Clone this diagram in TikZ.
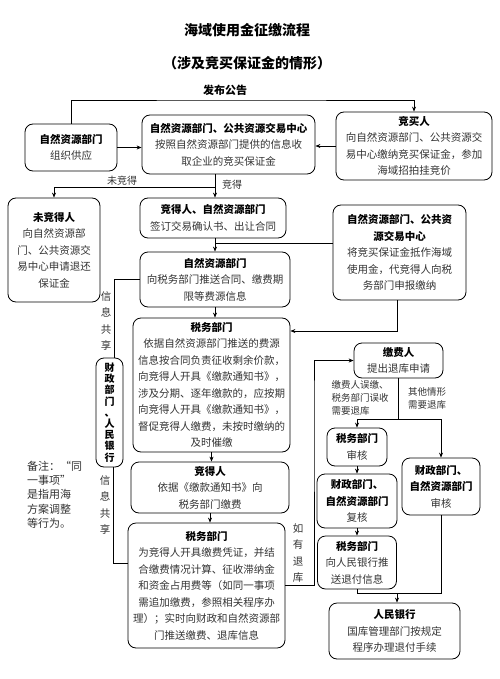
\documentclass[tikz,border=0pt]{standalone}
\usepackage{fontspec}
\setmainfont{Noto Sans CJK SC}
\usetikzlibrary{arrows.meta, positioning}
\newcommand{\boxhead}[1]{\textbf{\color{black}#1}}

\begin{document}
\begin{tikzpicture}[
        x=1pt, y=-1pt,
        box/.style={draw, rounded corners=8pt, line width=0.8pt, align=center, inner sep=1pt,
            font=\fontsize{10.5}{16.5}\selectfont, text=black!80},
        ttl/.style={font=\fontsize{14}{16}\selectfont\bfseries},
        lbl/.style={font=\fontsize{10}{13}\selectfont, text=black!80, inner sep=0pt, align=left},
        vlbl/.style={lbl, align=center, font=\fontsize{10.5}{16.3}\selectfont},
        arr/.style={-{Stealth[length=5pt, width=4pt]}, line width=0.7pt},
        con/.style={line width=0.7pt}
    ]
    \useasboundingbox (0,0) rectangle (499,679);

    % Title
    \node[ttl] (title) at (247,30) {海域使用金征缴流程};
    \node[ttl, below=13pt of title] (subtitle) {（涉及竞买保证金的情形）};

    % Nodes
    \node[box, minimum width=92pt, minimum height=47pt] (supply) at (71,147.5)
        {\boxhead{自然资源部门}\\组织供应};
    \node[box, minimum width=173pt, minimum height=59pt] (collect) at (228.5,144.5)
        {\boxhead{自然资源部门、公共资源交易中心}\\按照自然资源部门提供的信息收\\取企业的竞买保证金};
    \node[box, minimum width=156pt, minimum height=68pt] (bidder) at (414,146)
        {\boxhead{竞买人}\\向自然资源部门、公共资源交\\易中心缴纳竞买保证金，参加\\海域招拍挂竞价};
    \node[box, minimum width=92pt, minimum height=104pt] (loser) at (54,250)
        {\boxhead{未竞得人}\\向自然资源部\\门、公共资源交\\易中心申请退还\\保证金};
    \node[box, minimum width=146pt, minimum height=40pt] (sign) at (213,218)
        {\boxhead{竞得人、自然资源部门}\\签订交易确认书、出让合同};
    \node[box, minimum width=133pt, minimum height=95pt] (offset) at (399.5,252.5)
        {\boxhead{自然资源部门、公共资}\\\boxhead{源交易中心}\\将竞买保证金抵作海域\\使用金，代竞得人向税\\务部门申报缴纳};
    \node[box, minimum width=150pt, minimum height=55pt] (push) at (215,279.5)
        {\boxhead{自然资源部门}\\向税务部门推送合同、缴费期\\限等费源信息};
    \node[box, minimum width=157pt, minimum height=134pt] (taxnotice) at (211.5,385)
        {\boxhead{税务部门}\\依据自然资源部门推送的费源\\信息按合同负责征收剩余价款，\\向竞得人开具《缴款通知书》，\\涉及分期、逐年缴款的，应按期\\向竞得人开具《缴款通知书》，\\督促竞得人缴费，未按时缴纳的\\及时催缴};
    \node[box, minimum width=158pt, minimum height=51pt] (pay) at (210,487.5)
        {\boxhead{竞得人}\\依据《缴款通知书》向\\税务部门缴费};
    \node[box, minimum width=157pt, minimum height=125pt] (taxcert) at (206.5,585.5)
        {\boxhead{税务部门}\\为竞得人开具缴费凭证，并结\\合缴费情况计算、征收滞纳金\\和资金占用费等（如同一事项\\需追加缴费，参照相关程序办\\理）；实时向财政和自然资源部\\门推送缴费、退库信息};
    \node[box, minimum width=27pt, minimum height=109pt, inner sep=0pt,
          font=\fontsize{10}{11.2}\selectfont\bfseries, text=black] (share) at (109.5,412.5)
        {财\\政\\部\\门\\、\\人\\民\\银\\行};

    \node[box, minimum width=89pt, minimum height=35pt] (payer) at (398.5,360.5)
        {\boxhead{缴费人}\\提出退库申请};
    \node[box, minimum width=60pt, minimum height=38pt] (taxcheck) at (357,447)
        {\boxhead{税务部门}\\审核};
    \node[box, minimum width=78pt, minimum height=57pt] (fincheck) at (441,486.5)
        {\boxhead{财政部门、}\\\boxhead{自然资源部门}\\审核};
    \node[box, minimum width=80pt, minimum height=54pt] (recheck) at (357,501)
        {\boxhead{财政部门、}\\\boxhead{自然资源部门}\\复核};
    \node[box, minimum width=79pt, minimum height=53pt] (taxsend) at (357,562.5)
        {\boxhead{税务部门}\\向人民银行推\\送退付信息};
    \node[box, minimum width=131pt, minimum height=56pt] (bank) at (394.5,631)
        {\boxhead{人民银行}\\国库管理部门按规定\\程序办理退付手续};

    % Labels
    \node[lbl, font=\fontsize{11}{13}\selectfont\bfseries, text=black] (publbl) at (225,90) {发布公告};
    \node[lbl] (lostlbl) at (122,181) {未竞得};
    \node[lbl] (wonlbl) at (232,185) {竞得};
    \node[vlbl] (share1) at (106,321) {信\\息\\共\\享};
    \node[vlbl] (share2) at (105,505) {信\\息\\共\\享};
    \node[vlbl] (refund) at (298,553) {如\\有\\退\\库};
    \node[lbl, font=\fontsize{9.5}{13}\selectfont] (errlbl) at (360,398) {缴费人误缴、\\税务部门误收\\需要退库};
    \node[lbl, font=\fontsize{9.5}{13}\selectfont] (otherlbl) at (427,398.5) {其他情形\\需要退库};
    \node[lbl, font=\fontsize{11}{14.2}\selectfont, anchor=north west] (note) at (27,461)
        {备注：“同\\一事项”\\是指用海\\方案调整\\等行为。};

    % Arrows
    \coordinate (pub) at (240,100);
    \draw[arr] (supply.north) |- (pub) -| (bidder.north);
    \draw[arr] (supply.east) -- (supply.east -| collect.west);
    \draw[arr] (bidder.west) -- (bidder.west -| collect.east);

    \coordinate (split) at (215,187);
    \draw[con] (split |- collect.south) -- (split);
    \draw[arr] (split) -| (loser.north);
    \draw[arr] (split) -- (split |- sign.north);

    \coordinate (join) at (215,243);
    \draw[arr] (join |- sign.south) -- (join |- push.north);
    \draw[con] (offset.west |- join) -- (join);
    \draw[arr] (push.south) -- (push.south |- taxnotice.north);

    \coordinate (fback) at (397,331);
    \draw[arr] (fback |- offset.south) -- (fback) -- (fback -| taxnotice.east);
    \draw[arr] (taxnotice.south) -- (taxnotice.south |- pay.north);
    \draw[arr] (pay.south) -- (pay.south |- taxcert.north);

    \coordinate (ret) at (314,400);
    \draw[arr] (taxcert.east) -| (ret) |- (payer.west);

    \coordinate (ksplit) at (398.5,419);
    \draw[con] (payer.south) -- (ksplit);
    \draw[arr] (ksplit) -| (taxcheck.north);
    \draw[arr] (ksplit) -| (fincheck.north);
    \draw[arr] (taxcheck.south) -- (recheck.north);
    \draw[arr] (recheck.south) -- (taxsend.north);

    \coordinate (pjoin) at (397,593);
    \draw[con] (taxsend.south) |- (pjoin);
    \draw[con] (fincheck.south) |- (pjoin);
    \draw[arr] (pjoin) -- (pjoin |- bank.north);

    % Info sharing
    \coordinate (jin) at (128,563);
    \draw[con] (push.west) -| ([xshift=5pt]share.north);
    \draw[con] ([xshift=4pt]share.south) |- (jin);
\end{tikzpicture}
\end{document}
